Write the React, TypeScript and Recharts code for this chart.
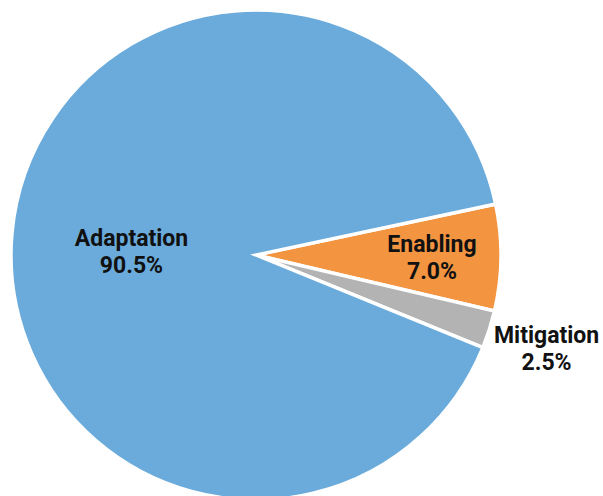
import React from "react";
import { PieChart, Pie, Cell } from "recharts";

// Share of finance by theme (percent)
const categories = ["Enabling", "Mitigation", "Adaptation"];
const shares = [7.0, 2.5, 90.5];
const colors = ["#f39441", "#b3b3b3", "#6aabdb"];

const data = categories.map((name, i) => ({ name, value: shares[i] }));

// Label placement per slice: distance from the centre and a vertical nudge
const labelRadius: Record<string, number> = { Enabling: 176, Mitigation: 305, Adaptation: 125 };
const labelNudge: Record<string, number> = { Enabling: 0, Mitigation: 0, Adaptation: 7 };

const RADIAN = Math.PI / 180;

const renderLabel = (props: any) => {
  const { cx, cy, midAngle, name, value } = props;
  const r = labelRadius[name] ?? 150;
  const x = cx + r * Math.cos(-midAngle * RADIAN);
  const y = cy + r * Math.sin(-midAngle * RADIAN) + (labelNudge[name] ?? 0);
  return (
    <text
      x={x}
      y={y}
      textAnchor="middle"
      fill="#111"
      fontFamily="Roboto, sans-serif"
      fontWeight={700}
      fontSize={23}
    >
      <tspan x={x} dy={-5}>{name}</tspan>
      <tspan x={x} dy={27}>{`${Number(value).toFixed(1)}%`}</tspan>
    </text>
  );
};

export default function App() {
  return (
    <div style={{ position: "absolute", left: 0, top: 0 }}>
      <PieChart width={603} height={496} margin={{ top: 0, right: 0, bottom: 0, left: 0 }}>
        <Pie
          data={data}
          dataKey="value"
          nameKey="name"
          cx={256}
          cy={255}
          outerRadius={245}
          startAngle={12}
          endAngle={-348}
          stroke="#ffffff"
          strokeWidth={3.5}
          label={renderLabel}
          labelLine={false}
          isAnimationActive={false}
        >
          {data.map((d, i) => (
            <Cell key={d.name} fill={colors[i]} />
          ))}
        </Pie>
      </PieChart>
    </div>
  );
}
